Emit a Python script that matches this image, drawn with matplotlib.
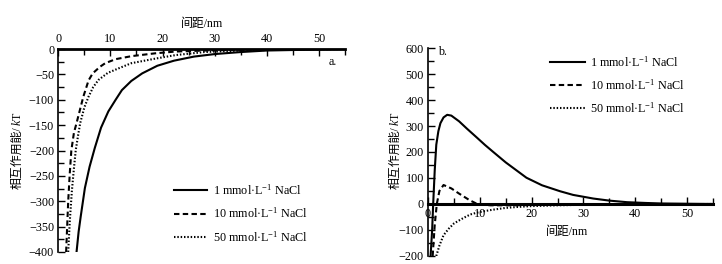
import matplotlib
matplotlib.use("Agg")
import matplotlib.pyplot as plt
from matplotlib.ticker import MultipleLocator

plt.rcParams['font.family'] = ['Liberation Serif', 'Noto Sans CJK SC', 'DejaVu Sans']
plt.rcParams['mathtext.fontset'] = 'custom'
plt.rcParams['mathtext.rm'] = 'Liberation Serif'
plt.rcParams['mathtext.it'] = 'Liberation Serif:italic'
plt.rcParams['mathtext.default'] = 'regular'
plt.rcParams['font.size'] = 8.7

# ---------- Panel a data (attractive interaction, kT) ----------
a_x_1 = [3.5, 3.9, 4.3, 5.1, 6.0, 7.0, 8.2, 9.6, 11, 12.2, 14, 16.1, 19, 22.2, 26, 30, 35, 40, 45, 50, 55]
a_y_1 = [-400, -360, -330, -274, -232, -195, -155, -123, -100, -81, -63, -48, -33, -23, -15, -10, -6, -3, -2, -1, 0]
a_x_10 = [1.5, 1.7, 1.9, 2.2, 2.5, 3.0, 3.5, 4.2, 4.8, 5.8, 6.6, 8.0, 9.0, 11, 14.1, 18.6, 22.5, 28, 35, 45, 55]
a_y_10 = [-400, -350, -300, -245, -200, -165, -146, -118, -94, -62, -48, -35, -28, -20, -14, -8.5, -5, -3, -1.5, -0.5, 0]
a_x_50 = [1.9, 2.2, 2.6, 3.0, 3.35, 3.8, 4.2, 5.0, 5.8, 6.7, 7.7, 9.5, 11.6, 14, 18.6, 22.5, 28, 35, 45, 55]
a_y_50 = [-400, -340, -280, -235, -199, -170, -146, -115, -94, -75, -61, -47, -38, -28, -19, -12, -6, -3, -1, 0]

# ---------- Panel b data (total interaction, kT) ----------
b_x_1 = [0.5, 0.8, 1.0, 1.3, 1.6, 2.0, 2.4, 3.0, 3.7, 4.5, 6.0, 7.5, 9.4, 11, 12.6, 15, 19, 22, 25.5, 28, 31.9, 35, 38.4, 42, 45, 50, 55]
b_y_1 = [-200, -100, 0, 130, 228, 280, 311, 333, 343, 340, 318, 290, 256, 227, 200, 160, 101, 72, 49, 35, 21, 13, 7, 4, 2, 1, 0]
b_x_10 = [0.9, 1.1, 1.3, 1.7, 2.2, 3.0, 4.5, 6.0, 8.0, 9.5, 12, 16, 20, 30, 40, 55]
b_y_10 = [-200, -140, -80, 0, 50, 73, 60, 40, 15, 0, -5, -5, -4, -2, -1, 0]
b_x_50 = [1.6, 2.2, 3.0, 4.0, 5.0, 6.1, 7.0, 8.2, 9.5, 11, 12.5, 15, 17.5, 20, 25, 30, 35, 40, 55]
b_y_50 = [-200, -160, -120, -95, -75, -62, -52, -40, -33, -27, -22, -15, -11, -8, -5, -3, -2, -1, 0]

labels = ['1 mmol·L$^{-1}$ NaCl', '10 mmol·L$^{-1}$ NaCl', '50 mmol·L$^{-1}$ NaCl']
styles = ['-', (0, (2.6, 1.6)), (0, (0.7, 0.9))]
x_ticks = [0, 10, 20, 30, 40, 50]

W, H = 722, 264
fig = plt.figure(figsize=(W / 100, H / 100), dpi=100)
LABEL_FS = 8.6

# ----- Panel a -----
axa = fig.add_axes([58.3 / W, 12 / H, (345 - 58.3) / W, (252 - 49) / H])
for xs, ys, ls, lab in zip([a_x_1, a_x_10, a_x_50], [a_y_1, a_y_10, a_y_50], styles, labels):
    axa.plot(xs, ys, color='black', lw=1.5, linestyle=ls, label=lab)
axa.set_xlim(0, 55)
axa.set_ylim(-400, 0)
axa.xaxis.tick_top()
axa.xaxis.set_label_position('top')
axa.set_xticks(x_ticks)
axa.xaxis.set_minor_locator(MultipleLocator(5))
axa.yaxis.set_major_locator(MultipleLocator(50))
axa.yaxis.set_minor_locator(MultipleLocator(25))
axa.spines['right'].set_visible(False)
axa.spines['bottom'].set_visible(False)
axa.spines['top'].set_linewidth(2.0)
axa.spines['left'].set_linewidth(1.2)
axa.tick_params(which='both', direction='in', top=True, bottom=False, right=False, left=True)
axa.tick_params(which='major', length=5, width=1, pad=3)
axa.tick_params(which='minor', length=4, width=1)
axa.set_xlabel('间距/nm', labelpad=4, fontsize=LABEL_FS)
axa.text(337 / W, 1 - 62 / H, 'a.', transform=fig.transFigure, ha='right', va='center')
axa.legend(loc='upper left', bbox_to_anchor=(174 / W, 1 - 183 / H), bbox_transform=fig.transFigure,
           frameon=False, borderpad=0, borderaxespad=0, handlelength=2.7, handletextpad=0.5,
           labelspacing=0.72)

# ----- Panel b -----
axb = fig.add_axes([428 / W, 8 / H, (713 - 428) / W, (256 - 48) / H])
for xs, ys, ls, lab in zip([b_x_1, b_x_10, b_x_50], [b_y_1, b_y_10, b_y_50], styles, labels):
    axb.plot(xs, ys, color='black', lw=1.5, linestyle=ls, label=lab)
axb.set_xlim(0, 55)
axb.set_ylim(-200, 600)
axb.set_xticks(x_ticks)
axb.xaxis.set_minor_locator(MultipleLocator(5))
axb.yaxis.set_major_locator(MultipleLocator(100))
axb.yaxis.set_minor_locator(MultipleLocator(50))
axb.spines['right'].set_visible(False)
axb.spines['top'].set_visible(False)
axb.spines['bottom'].set_position(('data', 0))
axb.spines['bottom'].set_linewidth(2.2)
axb.spines['left'].set_linewidth(1.2)
axb.tick_params(which='both', direction='in')
axb.tick_params(which='major', length=5, width=1, pad=3)
axb.tick_params(which='minor', length=4, width=1)
fig.text(567 / W, 1 - 232 / H, '间距/nm', ha='center', va='center', fontsize=LABEL_FS)
fig.text(443 / W, 1 - 52 / H, 'b.', ha='center', va='center')
axb.legend(loc='upper left', bbox_to_anchor=(550 / W, 1 - 55 / H), bbox_transform=fig.transFigure,
           frameon=False, borderpad=0, borderaxespad=0, handlelength=2.9, handletextpad=0.4,
           labelspacing=0.68)

# y labels: CJK part plus italic "k" and "T", stacked bottom-to-top
for xpix, ybottom in [(17, 189), (395, 189)]:
    t1 = fig.text(xpix / W, 1 - ybottom / H, '相互作用能/', rotation=90, ha='center', va='bottom',
                  fontsize=LABEL_FS)
    fig.canvas.draw()
    bb = t1.get_window_extent()
    fig.text(xpix / W + 0.5 / W, bb.y1 / H, r'$\mathit{k}$T', rotation=90, ha='center', va='bottom',
             fontsize=LABEL_FS)

fig.savefig('out.png', dpi=100)
